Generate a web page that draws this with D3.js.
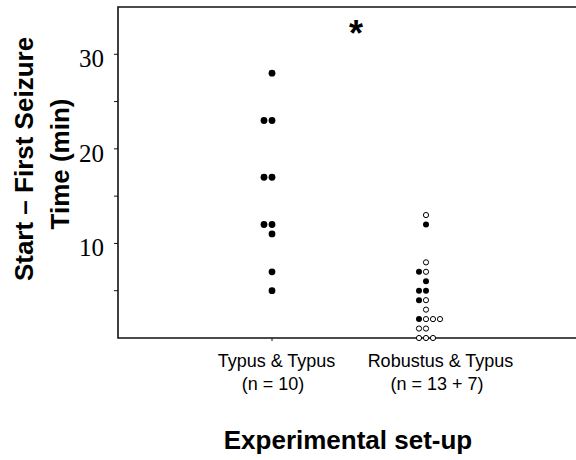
<!DOCTYPE html>
<html>
<head>
<meta charset="utf-8">
<script src="https://cdn.jsdelivr.net/npm/d3@7"></script>
<style>
  body { margin: 0; background: #fff; }
  svg { display: block; }
</style>
</head>
<body>
<svg width="576" height="460"></svg>
<script>
// data
var categories = ["Typus & Typus", "Robustus & Typus"];
var sampleLabels = ["(n = 10)", "(n = 13 + 7)"];
var typusFilled = [28, 23, 23, 17, 17, 12, 12, 11, 7, 5];
var robustusFilled = [12, 7, 6, 5, 5, 4, 2];
var robustusOpen = [13, 8, 7, 4, 3, 2, 2, 2, 1, 1, 0, 0, 0];
var yMajorTicks = [10, 20, 30];
var yMinorTicks = [5, 15, 25];

var svg = d3.select("svg"),
    width = +svg.attr("width"),
    height = +svg.attr("height"),
    plotLeft = 118,
    plotTop = 7,
    plotBottom = 338;

var y = d3.scaleLinear().domain([0, 35]).range([plotBottom, plotTop]);
var x = d3.scalePoint().domain(categories).range([plotLeft, 580]).padding(1);
var xLabel = d3.scalePoint().domain(categories).range([111, 603]).padding(1);

// frame: left, top and bottom lines (right side runs off the picture)
svg.append("path")
    .attr("d", "M" + width + "," + plotTop + "H" + plotLeft + "V" + plotBottom + "H" + width)
    .attr("fill", "none")
    .attr("stroke", "#111")
    .attr("stroke-width", 1.6);

// y ticks
svg.selectAll(".ytick")
    .data(yMajorTicks.concat(yMinorTicks))
    .enter().append("line")
    .attr("x1", plotLeft - 4)
    .attr("x2", plotLeft)
    .attr("y1", function (d) { return y(d); })
    .attr("y2", function (d) { return y(d); })
    .attr("stroke", "#111")
    .attr("stroke-width", 1);

svg.selectAll(".ylabel")
    .data(yMajorTicks)
    .enter().append("text")
    .attr("x", 104)
    .attr("y", function (d) { return y(d); })
    .attr("dy", "0.52em")
    .attr("text-anchor", "end")
    .style("font", "25px 'Liberation Serif', 'Times New Roman', serif")
    .text(function (d) { return d; });

// x ticks
svg.selectAll(".xtick")
    .data(categories)
    .enter().append("line")
    .attr("x1", function (d) { return x(d); })
    .attr("x2", function (d) { return x(d); })
    .attr("y1", plotBottom)
    .attr("y2", plotBottom + 3)
    .attr("stroke", "#111")
    .attr("stroke-width", 1);

// dots, stacked side by side where values repeat
function layout(cat, filled, open, step, r) {
    var pts = filled.map(function (v) { return { value: v, filled: true }; })
        .concat(open.map(function (v) { return { value: v, filled: false }; }));
    var groups = d3.group(pts, function (d) { return d.value; });
    var out = [];
    groups.forEach(function (g) {
        g.sort(function (a, b) { return b.filled - a.filled; });
        g.forEach(function (d, i) {
            var slot = g.length == 1 ? 0 : i - 1;
            out.push({ cx: x(cat) + slot * step, cy: y(d.value), filled: d.filled, r: r });
        });
    });
    return out;
}

var dots = layout(categories[0], typusFilled, [], 8, 3.4)
    .concat(layout(categories[1], robustusFilled, robustusOpen, 7, 3));

svg.selectAll(".dot")
    .data(dots)
    .enter().append("circle")
    .attr("cx", function (d) { return d.cx; })
    .attr("cy", function (d) { return d.cy; })
    .attr("r", function (d) { return d.filled ? d.r : d.r - 0.4; })
    .attr("fill", function (d) { return d.filled ? "#000" : "#fff"; })
    .attr("stroke", "#000")
    .attr("stroke-width", function (d) { return d.filled ? 0 : 1; });

// category labels
var sans = "'Liberation Sans', Arial, sans-serif";
categories.forEach(function (c, i) {
    svg.append("text")
        .attr("x", xLabel(c) + 1.5)
        .attr("y", 367)
        .attr("text-anchor", "middle")
        .style("font", "18px " + sans)
        .text(c);
    svg.append("text")
        .attr("x", xLabel(c) - 2)
        .attr("y", 390)
        .attr("text-anchor", "middle")
        .style("font", "18px " + sans)
        .text(sampleLabels[i]);
});

// axis titles
svg.append("text")
    .attr("transform", "translate(33,159) rotate(-90)")
    .attr("text-anchor", "middle")
    .style("font", "bold 26px " + sans)
    .text("Start \u2013 First Seizure");

svg.append("text")
    .attr("transform", "translate(69,164) rotate(-90)")
    .attr("text-anchor", "middle")
    .style("font", "bold 26px " + sans)
    .text("Time (min)");

svg.append("text")
    .attr("x", 348)
    .attr("y", 449)
    .attr("text-anchor", "middle")
    .style("font", "bold 26px " + sans)
    .text("Experimental set-up");

// significance mark
svg.append("text")
    .attr("x", 356)
    .attr("y", 46)
    .attr("text-anchor", "middle")
    .style("font", "bold 36px " + sans)
    .text("*");
</script>
</body>
</html>
